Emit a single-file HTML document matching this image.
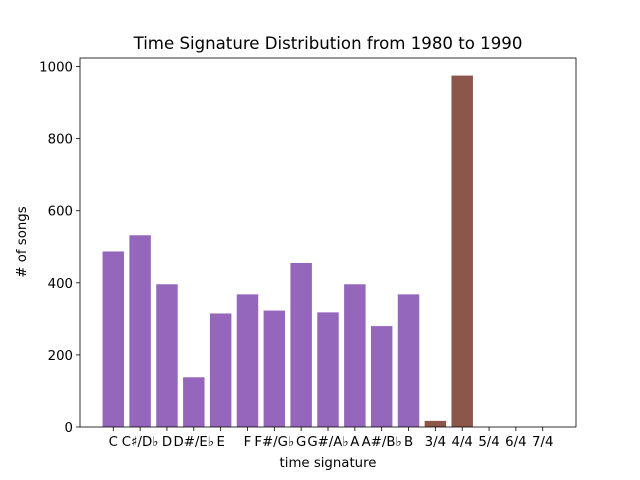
<!DOCTYPE html>
<html><head><meta charset="utf-8"><style>body{margin:0;background:#fff}svg{display:block;font-family:"DejaVu Sans","Liberation Sans",sans-serif}</style></head>
<body>
<svg id="c" width="640" height="480">
<text x="328" y="49" font-size="16.6" text-anchor="middle">Time Signature Distribution from 1980 to 1990</text>
<text x="328" y="467" font-size="13.3" text-anchor="middle">time signature</text>
<text x="26" y="242" font-size="13.3" text-anchor="middle" transform="rotate(-90 26 242)"># of songs</text>
</svg>
<script>
const categories=["C","C\u266F/D\u266D","D","D#/E\u266D","E","F","F#/G\u266D","G","G#/A\u266D","A","A#/B\u266D","B","3/4","4/4","5/4","6/4","7/4"];
const counts=[487,532,396,138,315,368,323,455,318,396,280,368,17,975,0,0,0];
const groups=["key","key","key","key","key","key","key","key","key","key","key","key","time","time","time","time","time"];
const yTicks=[0,200,400,600,800,1000];
const svg=document.getElementById('c');const NS='http://www.w3.org/2000/svg';
const L=80,R=576,T=58,B=427;
const xmin=-1.24,xmax=categories.length-1+1.24;
const ymax=Math.max(...counts)*1.05;
const x=i=>L+(i-xmin)/(xmax-xmin)*(R-L);
const y=v=>B-v/ymax*(B-T);
function mk(t,a){const e=document.createElementNS(NS,t);for(const k in a)e.setAttribute(k,a[k]);svg.appendChild(e);return e;}
const w=0.8*(R-L)/(xmax-xmin);
counts.forEach((v,i)=>{const r=mk('rect',{x:x(i)-w/2,y:y(v),width:w,height:B-y(v),fill:groups[i]=="key"?"#9467bd":"#8c564b"});


const tk=mk('line',{x1:x(i),x2:x(i),y1:B,y2:B+4,stroke:'#000','stroke-width':0.8});


const t=mk('text',{x:x(i),y:B+19,'font-size':13.3,'text-anchor':'middle'});t.textContent=categories[i];

});
yTicks.forEach(v=>{const tk=mk('line',{x1:L-4,x2:L,y1:y(v),y2:y(v),stroke:'#000','stroke-width':0.8});


const t=mk('text',{x:L-7,y:y(v)+5,'font-size':13.3,'text-anchor':'end'});t.textContent=v;

});
const f=mk('rect',{x:L,y:T,width:R-L,height:B-T,fill:'none',stroke:'#000','stroke-width':0.8});


</script>
</body></html>
